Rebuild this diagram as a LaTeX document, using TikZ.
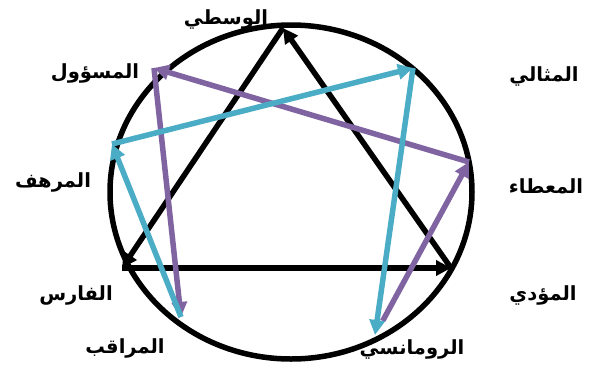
\documentclass[tikz,border=0pt]{standalone}
\usepackage{fontspec}
\newfontfamily\arabicfont[Script=Arabic]{DejaVu Sans}
\TeXXeTstate=1
\usetikzlibrary{arrows.meta}

\definecolor{enpurple}{HTML}{8064A2}
\definecolor{enaqua}{HTML}{4BACC6}

\begin{document}
\begin{tikzpicture}[
  x=1pt, y=-1pt,
  lbl/.style={font=\arabicfont\bfseries\fontsize{19.5}{22}\selectfont, inner sep=0pt},
  tri/.style={line width=5.5pt, draw=black, -{Triangle[length=15pt, width=15pt]}},
  hexp/.style={line width=5.5pt, draw=enpurple, -{Triangle[length=15pt, width=15pt]}},
  hexa/.style={line width=5.5pt, draw=enaqua, -{Triangle[length=15pt, width=15pt]}}
]
\useasboundingbox (0,0) rectangle (595,368);

% Points
\coordinate (p9) at (283,28);
\coordinate (p1) at (413,68);
\coordinate (p2) at (469,162);
\coordinate (p3) at (451,268);
\coordinate (p4) at (375,335);
\coordinate (p5) at (181,317);
\coordinate (p6) at (122,268);
\coordinate (p7) at (112,144);
\coordinate (p8) at (154,68);

% Circle
\draw[line width=5.5pt] (291,192) ellipse [x radius=181, y radius=167];

% Labels
\node[lbl] (n9) at (226,19) {\beginR الوسطي\endR};
\node[lbl] (n1) at (544,76) {\beginR المثالي\endR};
\node[lbl] (n2) at (546,186) {\beginR المعطاء\endR};
\node[lbl] (n3) at (543,295) {\beginR المؤدي\endR};
\node[lbl] (n4) at (412,349) {\beginR الرومانسي\endR};
\node[lbl] (n5) at (125,348) {\beginR المراقب\endR};
\node[lbl] (n6) at (76,295) {\beginR الفارس\endR};
\node[lbl] (n7) at (53,182) {\beginR المرهف\endR};
\node[lbl] (n8) at (95,73) {\beginR المسؤول\endR};

% Triangle
\draw[tri] (p9) -- (p6);
\draw[tri] (p6) -- (p3);
\draw[tri] (p3) -- (p9);

% Hexad
\draw[hexp, shorten <=16pt] (p4) -- (p2);
\draw[hexp] (p2) -- (p8);
\draw[hexp] (p8) -- (p5);
\draw[hexa] (p5) -- (p7);
\draw[hexa] (p7) -- (p1);
\draw[hexa] (p1) -- (p4);

\end{tikzpicture}
\end{document}
